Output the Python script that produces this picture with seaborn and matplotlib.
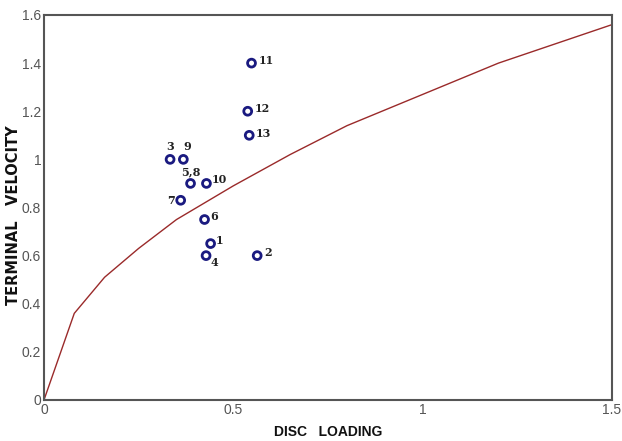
import matplotlib
matplotlib.use("Agg")
import matplotlib.pyplot as plt
import seaborn as sns
import pandas as pd

# Curve
curve_x = [0.0, 0.08, 0.16, 0.25, 0.35, 0.5, 0.65, 0.8, 1.0, 1.2, 1.5]
curve_y = [0.0, 0.36, 0.51, 0.63, 0.75, 0.89, 1.02, 1.14, 1.27, 1.40, 1.56]

# Data points
pt_labels = ["1", "2", "3", "4", "5,8", "6", "7", "9", "10", "11", "12", "13"]
pt_x = [0.44, 0.563, 0.333, 0.428, 0.387, 0.424, 0.361, 0.368, 0.429, 0.548, 0.538, 0.542]
pt_y = [0.65, 0.60, 1.00, 0.60, 0.90, 0.75, 0.83, 1.00, 0.90, 1.40, 1.20, 1.10]

x_ticks = [0, 0.5, 1, 1.5]
x_ticklabels = ["0", "0.5", "1", "1.5"]
y_ticks = [0, 0.2, 0.4, 0.6, 0.8, 1.0, 1.2, 1.4, 1.6]
y_ticklabels = ["0", "0.2", "0.4", "0.6", "0.8", "1", "1.2", "1.4", "1.6"]

sns.set_style("white")
plt.rcParams['font.family'] = ['Liberation Sans', 'DejaVu Sans']

fig = plt.figure(figsize=(6.22, 4.41), dpi=100)
ax = fig.add_axes([0.0707, 0.093, 0.9133, 0.873])

curve_df = pd.DataFrame({"x": curve_x, "y": curve_y})
sns.lineplot(data=curve_df, x="x", y="y", ax=ax, color="#9a2a2a", linewidth=1.0, sort=False)

pts_df = pd.DataFrame({"x": pt_x, "y": pt_y, "label": pt_labels})
sns.scatterplot(data=pts_df, x="x", y="y", ax=ax, marker="o", s=32,
                facecolor="none", edgecolor="#1a1a80", linewidth=2.0, zorder=3)

# label offsets in points
offsets = {"1": (4, 2), "2": (5, 2), "3": (-3, 9), "4": (3, -5), "5,8": (-7, 8),
           "6": (4, 2), "7": (-10, 0), "9": (0, 9), "10": (4, 3), "11": (5, 2),
           "12": (5, 2), "13": (5, 1)}
for lab, x, y in zip(pt_labels, pt_x, pt_y):
    dx, dy = offsets[lab]
    ax.annotate(lab, (x, y), xytext=(dx, dy), textcoords="offset points",
                fontsize=8, fontweight="bold", color="#222222",
                family=["DejaVu Serif"], va="center", ha="left")

ax.set_xlim(0, 1.5)
ax.set_ylim(0, 1.6)
ax.set_xticks(x_ticks)
ax.set_xticklabels(x_ticklabels)
ax.set_yticks(y_ticks)
ax.set_yticklabels(y_ticklabels)
ax.tick_params(direction="in", length=4, width=1, colors="#555555", labelsize=10,
               labelcolor="#555555", pad=2)
for sp in ax.spines.values():
    sp.set_visible(True)
    sp.set_color("#555555")
    sp.set_linewidth(1.5)

ax.set_xlabel("DISC   LOADING", fontsize=10, fontweight="bold", color="#111111")
ax.xaxis.set_label_coords(0.5, -0.066)
ax.set_ylabel("TERMINAL   VELOCITY", fontsize=10.5, fontweight="bold", color="#111111",
              family=["DejaVu Sans"])
ax.yaxis.set_label_coords(-0.04, 0.48)

fig.savefig("out.png", dpi=100)
